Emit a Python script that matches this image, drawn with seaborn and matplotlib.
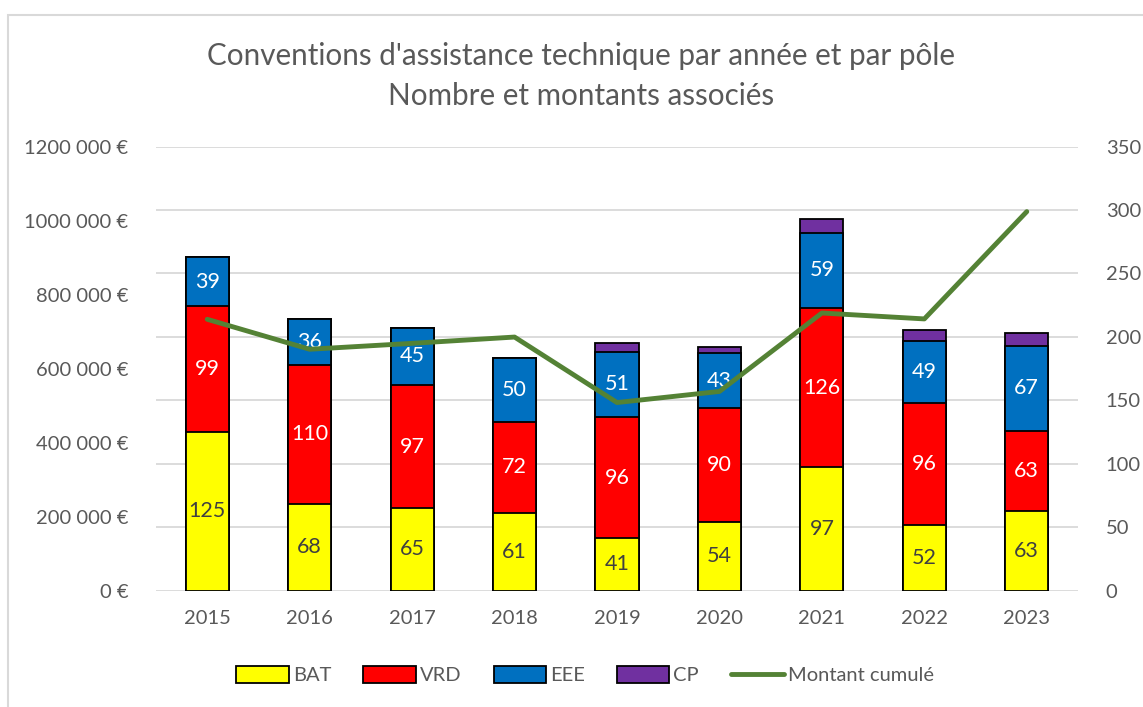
import matplotlib
matplotlib.use("Agg")
import matplotlib.pyplot as plt
import seaborn as sns
import pandas as pd
import numpy as np
from matplotlib.ticker import FuncFormatter, MultipleLocator
from matplotlib.patches import Patch, Rectangle
from matplotlib.lines import Line2D

# ---- data ----
years = ["2015", "2016", "2017", "2018", "2019", "2020", "2021", "2022", "2023"]
bat = [125, 68, 65, 61, 41, 54, 97, 52, 63]
vrd = [99, 110, 97, 72, 96, 90, 126, 96, 63]
eee = [39, 36, 45, 50, 51, 43, 59, 49, 67]
cp = [0, 0, 0, 0, 7, 5, 11, 8, 10]
montant = [733000, 652000, 668000, 685000, 508000, 538000, 750000, 734000, 1024000]

series_names = ["BAT", "VRD", "EEE", "CP"]
series_vals = [bat, vrd, eee, cp]
colors = ["#FFFF00", "#FF0000", "#0070C0", "#7030A0"]
label_colors = ["#404040", "white", "white", None]
line_color = "#548235"
text_color = "#595959"

sns.set_theme(style="white")
plt.rcParams["font.family"] = ["Lato", "DejaVu Sans"]

fig = plt.figure(figsize=(11.43, 7.07), dpi=100)
ax = fig.add_axes([156 / 1143, 1 - 590.5 / 707, (1078 - 156) / 1143, (590.5 - 146.5) / 707])

df = pd.DataFrame({"year": years, "BAT": bat, "VRD": vrd, "EEE": eee, "CP": cp})
cums = np.cumsum(np.array(series_vals), axis=0)

# stacked bars drawn from the top layer down
for i in range(len(series_names) - 1, -1, -1):
    sns.barplot(x=df["year"], y=cums[i], color=colors[i], edgecolor="black",
                linewidth=1.3, width=0.42, saturation=1, errorbar=None, ax=ax, zorder=2)

# segment labels
for i, name in enumerate(series_names):
    if label_colors[i] is None:
        continue
    for j, v in enumerate(series_vals[i]):
        if v > 0:
            ax.text(j, cums[i][j] - v / 2, str(v), ha="center", va="center",
                    color=label_colors[i], fontsize=15.5, zorder=5)

ax.set_xlim(-0.5, len(years) - 0.5)
ax.set_ylim(0, 350)
ax.yaxis.set_major_locator(MultipleLocator(50))
ax.yaxis.grid(True, color="#D9D9D9", linewidth=1.3, zorder=0)
ax.set_axisbelow(True)
ax.set_xlabel("")
ax.set_ylabel("")
for s in ax.spines.values():
    s.set_visible(False)

# line on secondary (left) axis
ax2 = ax.twinx()
sns.lineplot(x=np.arange(len(years)), y=montant, color=line_color, linewidth=3.5,
             ax=ax2, zorder=6)
ax2.set_ylim(0, 1200000)
ax2.yaxis.set_major_locator(MultipleLocator(200000))
ax2.yaxis.tick_left()
ax2.yaxis.set_label_position("left")

# bar axis ticks on the right (after twinx, which resets them)
ax.yaxis.tick_right()
ax.tick_params(axis="both", length=0, colors=text_color, labelsize=14.5)
ax.tick_params(axis="x", pad=14)
ax.tick_params(axis="y", pad=20)


def eur(v, pos):
    v = int(round(v))
    k = v // 1000
    if k == 0:
        return "0 €"
    return f"{k} {v % 1000:03d} €"


ax2.yaxis.set_major_formatter(FuncFormatter(eur))
ax2.tick_params(axis="y", length=0, colors=text_color, labelsize=14.5, pad=20)
ax2.set_ylabel("")
ax2.grid(False)
for s in ax2.spines.values():
    s.set_visible(False)

# title
fig.text(581 / 1143, 1 - 56 / 707, "Conventions d'assistance technique par année et par pôle",
         ha="center", va="center", fontsize=21.3, color=text_color)
fig.text(581 / 1143, 1 - 96 / 707, "Nombre et montants associés",
         ha="center", va="center", fontsize=21.3, color=text_color)

# legend
handles = [Patch(facecolor=colors[i], edgecolor="black", linewidth=1.3) for i in range(4)]
handles.append(Line2D([0], [0], color=line_color, linewidth=3.5))
fig.legend(handles, series_names + ["Montant cumulé"], loc="center",
           bbox_to_anchor=(585 / 1143, 1 - 675 / 707), ncol=5, frameon=False,
           fontsize=14.5, labelcolor=text_color, handlelength=2.6, handleheight=0.9,
           handletextpad=0.2, columnspacing=1.6)

# chart-area border
fig.patches.append(Rectangle((8 / 1143, -0.1), 1.2, (707 - 15) / 707 + 0.1,
                             transform=fig.transFigure, fill=False,
                             edgecolor="#D9D9D9", linewidth=1.5))

fig.savefig("out.png", dpi=100)
